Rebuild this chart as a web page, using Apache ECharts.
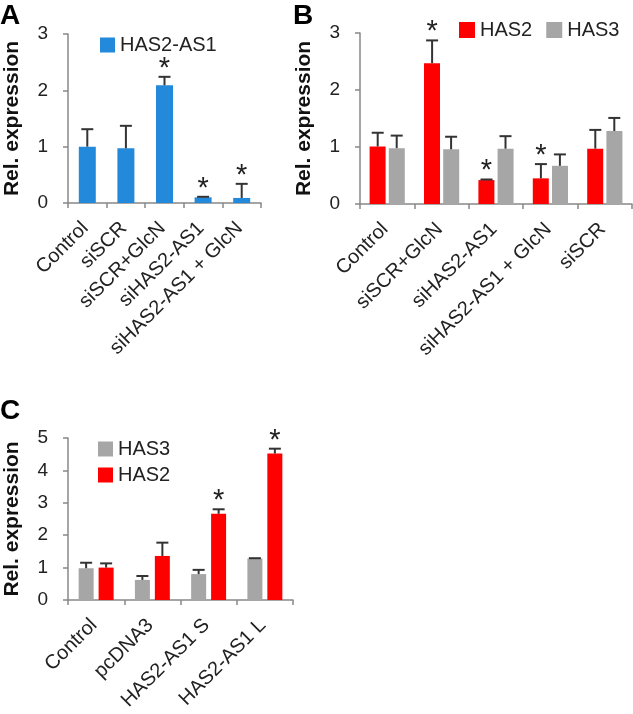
<!DOCTYPE html>
<html><head><meta charset="utf-8">
<script src="https://cdn.jsdelivr.net/npm/echarts@6/dist/echarts.min.js"></script>
<style>html,body{margin:0;padding:0;background:#fff}#c{width:633px;height:714px}</style>
</head><body><div id="c"></div>
<script>
// Panel A
const catA = ['Control','siSCR','siSCR+GlcN','siHAS2-AS1','siHAS2-AS1 + GlcN'];
const valA = [1.00, 0.97, 2.09, 0.10, 0.09];
const errA = [0.31, 0.40, 0.15, 0.01, 0.25];
const sigA = [0, 0, 1, 1, 1];
const ticksA = [0, 1, 2, 3];

// Panel B
const catB = ['Control','siSCR+GlcN','siHAS2-AS1','siHAS2-AS1 + GlcN','siSCR'];
const has2B = [1.01, 2.47, 0.42, 0.45, 0.97];
const has2BErr = [0.24, 0.40, 0.01, 0.25, 0.33];
const has2BSig = [0, 1, 1, 1, 0];
const has3B = [0.98, 0.96, 0.97, 0.67, 1.28];
const has3BErr = [0.22, 0.22, 0.22, 0.20, 0.23];
const ticksB = [0, 1, 2, 3];

// Panel C
const catC = ['Control','pcDNA3','HAS2-AS1 S','HAS2-AS1 L'];
const has3C = [0.98, 0.62, 0.80, 1.28];
const has3CErr = [0.17, 0.12, 0.13, 0.01];
const has2C = [1.00, 1.36, 2.66, 4.52];
const has2CErr = [0.13, 0.41, 0.14, 0.15];
const has2CSig = [0, 0, 1, 1];
const ticksC = [0, 1, 2, 3, 4, 5];

const FONT = "'Liberation Sans', Arial, sans-serif";
const BLUE = '#2389DA', RED = '#FF0000', GRAY = '#A6A6A6';

function errSeries(xi, vals, errs, sigs, offset) {
  return {
    type: 'custom', xAxisIndex: xi, yAxisIndex: xi, z: 5, silent: true,
    data: vals.map((v, i) => [i, v, errs[i], sigs ? sigs[i] : 0]),
    encode: { x: 0, y: 1 },
    renderItem(params, api) {
      const i = api.value(0), v = api.value(1), e = api.value(2), s = api.value(3);
      const p0 = api.coord([i, v]);
      const p1 = api.coord([i, v + e]);
      const x = p0[0] + offset;
      const ch = [
        { type: 'line', shape: { x1: x, y1: p0[1], x2: x, y2: p1[1] }, style: { stroke: '#333', lineWidth: 2 } },
        { type: 'line', shape: { x1: x - 6, y1: p1[1], x2: x + 6, y2: p1[1] }, style: { stroke: '#333', lineWidth: 2 } }
      ];
      if (s) ch.push({ type: 'text', style: { text: '*', x: x, y: p1[1] - 8, align: 'center', verticalAlign: 'middle', font: '29px ' + FONT, fill: '#222' } });
      return { type: 'group', children: ch };
    }
  };
}

function xAx(gi, data) {
  return {
    type: 'category', gridIndex: gi, data: data,
    axisLine: { show: true, lineStyle: { color: '#888', width: 1.5 } },
    axisTick: { show: true, length: 5, lineStyle: { color: '#888', width: 1.5 } },
    axisLabel: { rotate: 45, interval: 0, fontSize: 20, fontFamily: FONT, color: '#222', margin: 20, padding: [0, 3, 0, 0] }
  };
}
function yAx(gi, ticks) {
  return {
    type: 'value', gridIndex: gi, min: ticks[0], max: ticks[ticks.length - 1], interval: ticks[1] - ticks[0],
    splitLine: { show: false },
    axisLine: { show: true, lineStyle: { color: '#888', width: 1.5 } },
    axisTick: { show: true, length: 5, lineStyle: { color: '#888', width: 1.5 } },
    axisLabel: { fontSize: 19, fontFamily: FONT, color: '#222', margin: 20 },
    name: 'Rel. expression', nameLocation: 'middle', nameGap: 45,
    nameTextStyle: { fontSize: 21, fontWeight: 'bold', fontFamily: FONT, color: '#111' }
  };
}

const legendText = { fontSize: 20, fontFamily: FONT, color: '#222' };

const option = {
  animation: false,
  backgroundColor: '#fff',
  grid: [
    { left: 68, top: 34, width: 193, height: 169 },
    { left: 360, top: 33, width: 272, height: 171 },
    { left: 68, top: 438, width: 225, height: 162 }
  ],
  xAxis: [xAx(0, catA), xAx(1, catB), xAx(2, catC)],
  yAxis: [yAx(0, ticksA), yAx(1, ticksB), yAx(2, ticksC)],
  legend: [
    { data: ['HAS2-AS1'], left: 95, top: 30, icon: 'rect', itemWidth: 15, itemHeight: 15, itemGap: 18, textStyle: legendText },
    { data: ['HAS2', 'HAS3'], left: 454, top: 15, icon: 'rect', itemWidth: 16, itemHeight: 16, itemGap: 14, textStyle: legendText },
    { data: ['HAS3', 'HAS2'], orient: 'vertical', left: 93, top: 434, icon: 'rect', itemWidth: 15, itemHeight: 15, itemGap: 6, textStyle: legendText }
  ],
  graphic: [
    { type: 'text', left: 0, top: 2, style: { text: 'A', font: 'bold 28px ' + FONT, fill: '#000' } },
    { type: 'text', left: 293, top: 2, style: { text: 'B', font: 'bold 28px ' + FONT, fill: '#000' } },
    { type: 'text', left: 0, top: 397, style: { text: 'C', font: 'bold 28px ' + FONT, fill: '#000' } }
  ],
  series: [
    { name: 'HAS2-AS1', type: 'bar', xAxisIndex: 0, yAxisIndex: 0, data: valA, barWidth: 17, itemStyle: { color: BLUE } },
    errSeries(0, valA, errA, sigA, 0),

    { name: 'HAS2', type: 'bar', xAxisIndex: 1, yAxisIndex: 1, data: has2B, barWidth: 16, barGap: '20%', itemStyle: { color: RED } },
    { name: 'HAS3', type: 'bar', xAxisIndex: 1, yAxisIndex: 1, data: has3B, barWidth: 16, barGap: '20%', itemStyle: { color: GRAY } },
    errSeries(1, has2B, has2BErr, has2BSig, -9.5),
    errSeries(1, has3B, has3BErr, null, 9.5),

    { name: 'HAS3', type: 'bar', xAxisIndex: 2, yAxisIndex: 2, data: has3C, barWidth: 15, barGap: '33%', itemStyle: { color: GRAY } },
    { name: 'HAS2', type: 'bar', xAxisIndex: 2, yAxisIndex: 2, data: has2C, barWidth: 15, barGap: '33%', itemStyle: { color: RED } },
    errSeries(2, has3C, has3CErr, null, -10),
    errSeries(2, has2C, has2CErr, has2CSig, 10)
  ]
};
const chart = echarts.init(document.getElementById('c'), null, { renderer: 'canvas' });
chart.setOption(option);
</script></body></html>
